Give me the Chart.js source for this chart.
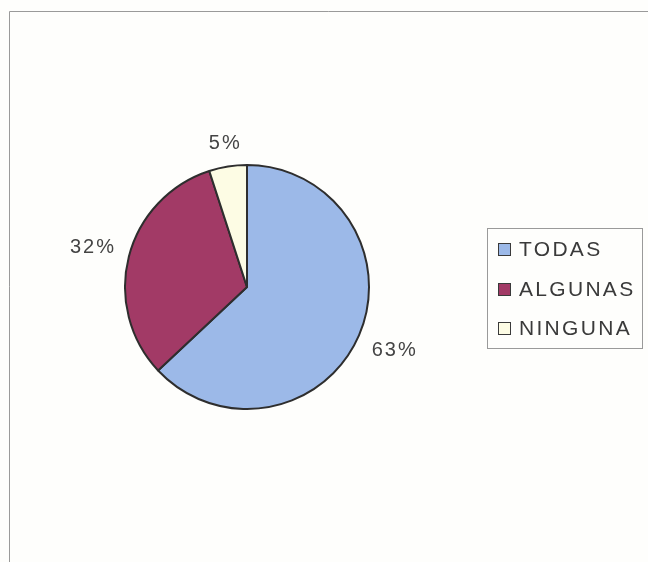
<!DOCTYPE html>
<html>
<head>
<meta charset="utf-8">
<script src="https://cdn.jsdelivr.net/npm/chart.js@4/dist/chart.umd.min.js"></script>
<style>
  html, body { margin: 0; padding: 0; background: #fefefc; }
  #wrap { width: 648px; height: 562px; }
</style>
</head>
<body>
<div id="wrap"><canvas id="pie" width="648" height="562"></canvas></div>
<script>
const categories = ['TODAS', 'ALGUNAS', 'NINGUNA'];
const percents = [63, 32, 5];
const sliceColors = ['#9cb9e8', '#a23a66', '#fdfce4'];

const FONT = '"Liberation Sans", Arial, sans-serif';

// frame around the whole chart (only top and left edges are inside the canvas)
const frame = {
    id: 'frame',
    beforeDraw(chart) {
        const ctx = chart.ctx;
        ctx.save();
        ctx.fillStyle = '#fefefc';
        ctx.fillRect(0, 0, chart.width, chart.height);
        ctx.strokeStyle = '#9a9a9a';
        ctx.lineWidth = 1;
        ctx.beginPath();
        ctx.moveTo(9.5, chart.height);
        ctx.lineTo(9.5, 11.5);
        ctx.lineTo(chart.width, 11.5);
        ctx.stroke();
        ctx.restore();
    }
};

// percentage labels just outside each slice
const outsideLabels = {
    id: 'outsideLabels',
    afterDatasetsDraw(chart) {
        const ctx = chart.ctx;
        const meta = chart.getDatasetMeta(0);
        ctx.save();
        ctx.font = '20px ' + FONT;
        ctx.letterSpacing = '2px';
        ctx.fillStyle = '#444444';
        ctx.textAlign = 'center';
        ctx.textBaseline = 'middle';
        meta.data.forEach((arc, i) => {
            const p = arc.getProps(['x', 'y', 'startAngle', 'endAngle', 'outerRadius'], true);
            const mid = (p.startAngle + p.endAngle) / 2;
            const text = chart.data.datasets[0].data[i] + '%';
            const w = ctx.measureText(text).width;
            const h = 14;
            const d = p.outerRadius + 14 + Math.abs(Math.cos(mid)) * w / 2 + Math.abs(Math.sin(mid)) * h / 2;
            ctx.fillText(text, p.x + Math.cos(mid) * d + 1, p.y + Math.sin(mid) * d);
        });
        ctx.restore();
    }
};

// boxed legend on the right
const boxLegend = {
    id: 'boxLegend',
    afterDraw(chart) {
        const ctx = chart.ctx;
        const ds = chart.data.datasets[0];
        const rows = [249, 289, 328];
        ctx.save();
        ctx.strokeStyle = '#9a9a9a';
        ctx.lineWidth = 1;
        ctx.strokeRect(487.5, 228.5, 155, 120);
        ctx.font = '21px ' + FONT;
        ctx.letterSpacing = '2.3px';
        ctx.textBaseline = 'middle';
        ctx.textAlign = 'left';
        chart.data.labels.forEach((label, i) => {
            const y = rows[i];
            ctx.fillStyle = ds.backgroundColor[i];
            ctx.fillRect(498, y - 6, 13, 13);
            ctx.strokeStyle = '#3a3a3a';
            ctx.strokeRect(498.5, y - 5.5, 12, 12);
            ctx.fillStyle = '#3a3a3a';
            ctx.fillText(label, 519, y + 1);
        });
        ctx.restore();
    }
};

new Chart(document.getElementById('pie'), {
    type: 'pie',
    data: {
        labels: categories,
        datasets: [{
            data: percents,
            backgroundColor: sliceColors,
            borderColor: '#2e2e2e',
            borderWidth: 2
        }]
    },
    options: {
        responsive: false,
        animation: false,
        rotation: 0,
        layout: { padding: { left: 124, right: 278, top: 164, bottom: 152 } },
        plugins: {
            legend: { display: false },
            tooltip: { enabled: false }
        }
    },
    plugins: [frame, outsideLabels, boxLegend]
});
</script>
</body>
</html>
